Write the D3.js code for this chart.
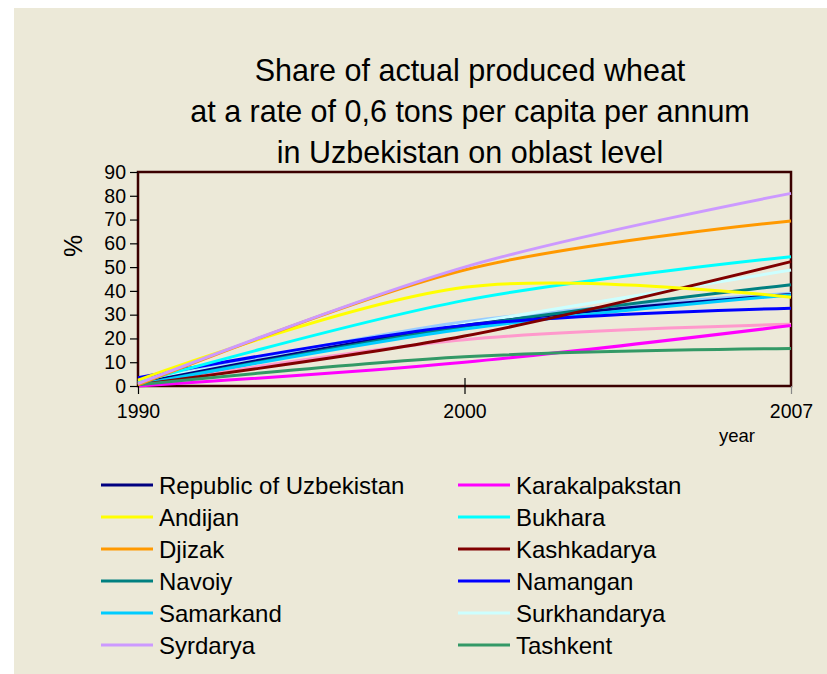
<!DOCTYPE html>
<html>
<head>
<meta charset="utf-8">
<script src="https://cdn.jsdelivr.net/npm/d3@7"></script>
<style>
  body { margin: 0; background: #fff; }
  svg text { font-family: "Liberation Sans", Arial, sans-serif; fill: #000; }
</style>
</head>
<body>
<svg id="chart" width="827" height="674"></svg>
<script>
// years on the category axis
const years = ["1990", "2000", "2007"]

// share of produced wheat, %
const republic       = [1.0, 25.5, 38.5]
const andijan        = [2.5, 41.5, 37.3]
const djizak         = [0.5, 48.8, 69.4]
const navoiy         = [0.5, 25.0, 42.6]
const samarkand      = [0.5, 24.0, 38.3]
const syrdarya       = [1.0, 50.0, 81.0]
const karakalpakstan = [0.0, 10.0, 25.4]
const bukhara        = [1.5, 36.0, 54.4]
const kashkadarya    = [0.5, 21.0, 52.3]
const namangan       = [3.5, 25.5, 32.7]
const surkhandarya   = [2.0, 26.0, 48.8]
const tashkent       = [0.5, 12.3, 15.8]
// two extra curves drawn without a legend entry
const unnamedPink    = [0.5, 19.5, 26.0]
const unnamedBlue    = [1.5, 27.0, 39.0]

const yTicks = [0, 10, 20, 30, 40, 50, 60, 70, 80, 90]

const series = [
  {name: "Republic of Uzbekistan", values: republic, color: "#000080", col: 0, row: 0},
  {name: "Andijan", values: andijan, color: "#ffff00", col: 0, row: 1},
  {name: "Djizak", values: djizak, color: "#ff9900", col: 0, row: 2},
  {name: "Navoiy", values: navoiy, color: "#008080", col: 0, row: 3},
  {name: "Samarkand", values: samarkand, color: "#00ccff", col: 0, row: 4},
  {name: "Syrdarya", values: syrdarya, color: "#cc99ff", col: 0, row: 5},
  {name: "Karakalpakstan", values: karakalpakstan, color: "#ff00ff", col: 1, row: 0},
  {name: "Bukhara", values: bukhara, color: "#00ffff", col: 1, row: 1},
  {name: "Kashkadarya", values: kashkadarya, color: "#800000", col: 1, row: 2},
  {name: "Namangan", values: namangan, color: "#0000ff", col: 1, row: 3},
  {name: "Surkhandarya", values: surkhandarya, color: "#ccffff", col: 1, row: 4},
  {name: "Tashkent", values: tashkent, color: "#339966", col: 1, row: 5},
  {name: null, values: unnamedPink, color: "#ff99cc"},
  {name: null, values: unnamedBlue, color: "#99ccff"}
]

// draw order roughly as in the picture (lower ones first)
const drawOrder = [12, 13, 10, 0, 3, 4, 9, 8, 6, 11, 7, 1, 2, 5]

const svg = d3.select("#chart")

// beige panel
svg.append("rect")
  .attr("x", 14).attr("y", 8)
  .attr("width", 813).attr("height", 666)
  .attr("fill", "#ece9d8")

// title
const title = ["Share of actual produced wheat",
               "at a rate of 0,6 tons per capita per annum",
               "in Uzbekistan on oblast level"]
svg.append("g").selectAll("text")
  .data(title)
  .enter().append("text")
    .attr("x", 470)
    .attr("y", (d, i) => 81 + i * 41)
    .attr("text-anchor", "middle")
    .style("font-size", "30.5px")
    .text(d => d)

const margin = {left: 138, right: 791, top: 172, bottom: 386}

const x = d3.scalePoint()
  .domain(years)
  .range([margin.left, margin.right])

const y = d3.scaleLinear()
  .domain([0, 90])
  .range([margin.bottom, margin.top])

// plot frame
svg.append("rect")
  .attr("x", margin.left).attr("y", margin.top)
  .attr("width", margin.right - margin.left)
  .attr("height", margin.bottom - margin.top)
  .attr("fill", "none")
  .attr("stroke", "#3a0000")
  .attr("stroke-width", 2.5)

// lines
const line = d3.line()
  .x((d, i) => x(years[i]))
  .y(d => y(d))
  .curve(d3.curveCatmullRom.alpha(0))

svg.append("g").selectAll("path")
  .data(drawOrder.map(i => series[i]))
  .enter().append("path")
    .attr("d", d => line(d.values))
    .attr("fill", "none")
    .attr("stroke", d => d.color)
    .attr("stroke-width", 3)

// y axis
const yAxis = svg.append("g")
  .attr("transform", `translate(${margin.left},0)`)
  .call(d3.axisLeft(y).tickValues(yTicks).tickSize(8).tickPadding(4))
yAxis.select(".domain").remove()
yAxis.selectAll(".tick line").attr("stroke", "#000").attr("stroke-width", 1.2)
yAxis.selectAll(".tick text")
  .style("font-size", "19.5px")
  .style("font-family", "'Liberation Sans', Arial, sans-serif")
  .attr("fill", "#000")

// x axis
const xAxis = svg.append("g")
  .attr("transform", `translate(0,${margin.bottom})`)
  .call(d3.axisBottom(x).tickSizeInner(8).tickSizeOuter(0).tickPadding(10))
xAxis.select(".domain").remove()
xAxis.selectAll(".tick line")
  .attr("y1", (d, i) => i === 1 ? -8 : 0)
  .attr("stroke", (d, i) => i === 2 ? "#888" : "#000")
  .attr("stroke-width", 1.2)
xAxis.selectAll(".tick text")
  .style("font-size", "19.5px")
  .style("font-family", "'Liberation Sans', Arial, sans-serif")
  .attr("fill", "#000")

// axis titles
svg.append("text")
  .attr("transform", "translate(82,246) rotate(-90)")
  .attr("text-anchor", "middle")
  .style("font-size", "25px")
  .text("%")

svg.append("text")
  .attr("x", 737).attr("y", 442)
  .attr("text-anchor", "middle")
  .style("font-size", "18.5px")
  .text("year")

// legend
const legend = svg.append("g").selectAll("g")
  .data(series.filter(s => s.name))
  .enter().append("g")
    .attr("transform", d => `translate(${d.col === 0 ? 101 : 458},${485 + d.row * 32})`)

legend.append("line")
  .attr("x1", 0).attr("x2", 52)
  .attr("stroke", d => d.color)
  .attr("stroke-width", 3)

legend.append("text")
  .attr("x", 58).attr("y", 8.5)
  .style("font-size", "24px")
  .text(d => d.name)
</script>
</body>
</html>
